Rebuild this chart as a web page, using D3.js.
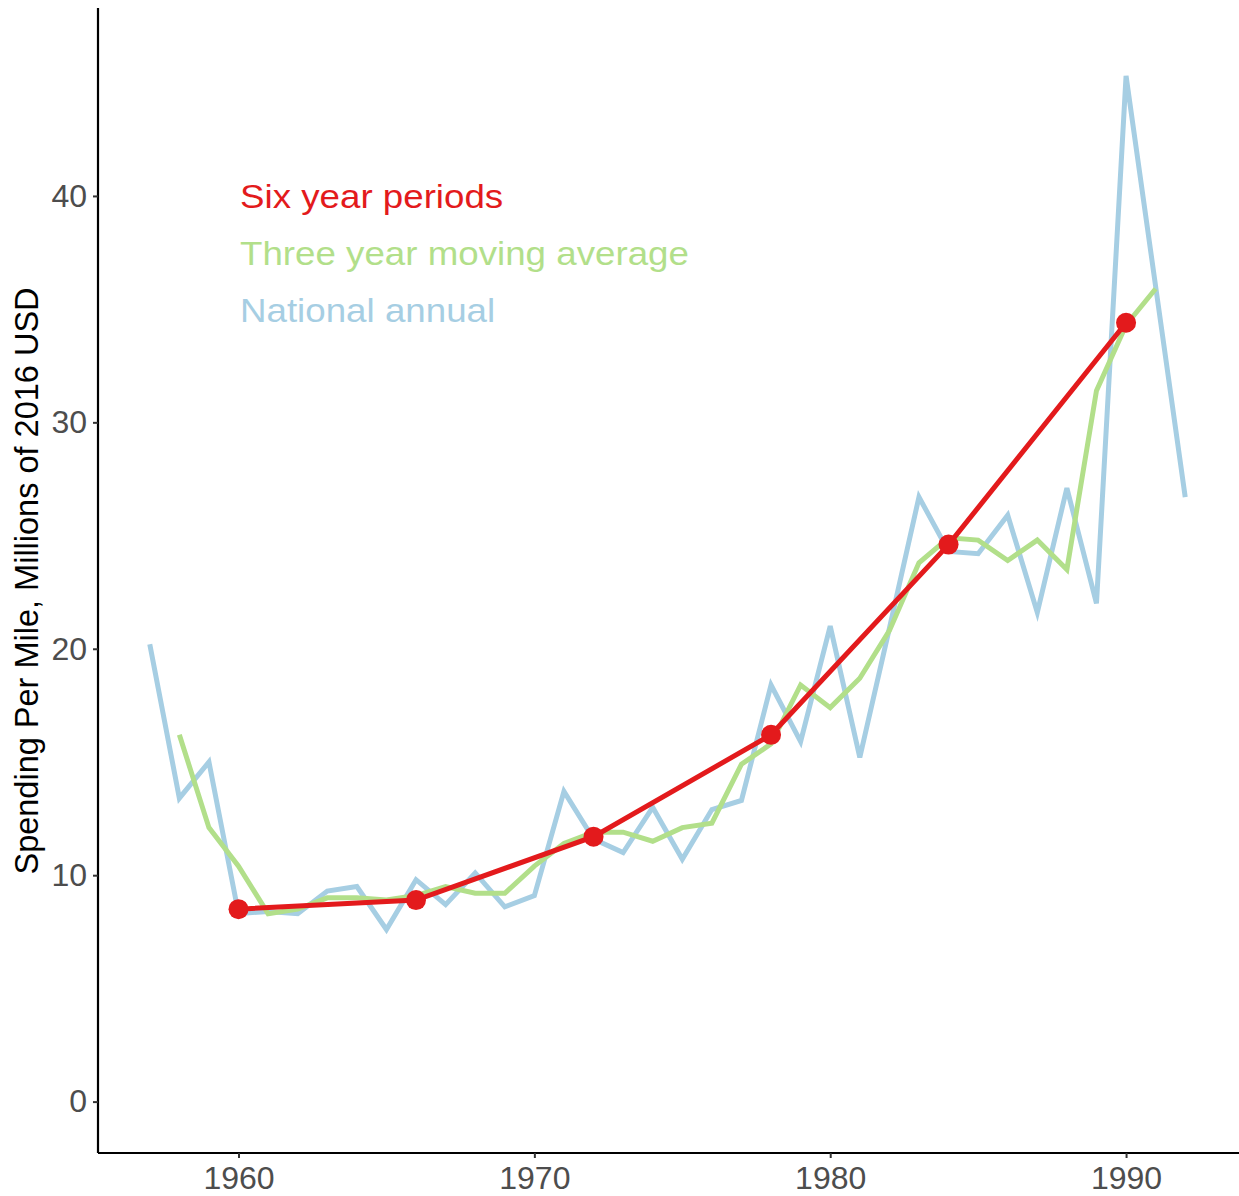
<!DOCTYPE html>
<html>
<head>
<meta charset="utf-8">
<script src="https://cdn.jsdelivr.net/npm/d3@7"></script>
<style>
  html, body { margin: 0; padding: 0; background: #ffffff; }
  svg { display: block; font-family: "Liberation Sans", Arial, sans-serif; }
</style>
</head>
<body>
<svg id="chart" width="1239" height="1196"></svg>
<script>
// National annual spending per mile (millions of 2016 USD)
const annualYears = [1957,1958,1959,1960,1961,1962,1963,1964,1965,1966,1967,1968,1969,1970,
  1971,1972,1973,1974,1975,1976,1977,1978,1979,1980,1981,1982,1983,1984,1985,1986,1987,1988,
  1989,1990,1991,1992];
const annualValues = [20.2,13.4,15.0,8.3,8.4,8.3,9.3,9.5,7.6,9.8,8.7,10.1,8.6,9.1,
  13.7,11.6,11.0,13.0,10.7,12.9,13.3,18.4,15.9,21.0,15.2,20.9,26.7,24.3,24.2,25.9,21.6,27.1,
  22.0,45.3,36.0,26.7];

// Three year moving average
const movingYears = [1958,1959,1960,1961,1962,1963,1964,1965,1966,1967,1968,1969,1970,
  1971,1972,1973,1974,1975,1976,1977,1978,1979,1980,1981,1982,1983,1984,1985,1986,1987,1988,
  1989,1990,1991];
const movingValues = [16.2,12.1,10.4,8.3,8.5,9.0,9.0,8.9,9.1,9.5,9.2,9.2,10.4,
  11.4,11.9,11.9,11.5,12.1,12.3,14.9,15.8,18.4,17.4,18.7,20.8,23.8,24.9,24.8,23.9,24.8,23.5,
  31.4,34.3,35.9];

// Six year period averages
const periodYears = [1960,1966,1972,1978,1984,1990];
const periodValues = [8.5,8.9,11.7,16.2,24.6,34.4];

const xTicks = [1960,1970,1980,1990];
const yTicks = [0,10,20,30,40];

const legendLabels = ["Six year periods","Three year moving average","National annual"];
const colors = { period: "#e31a1c", moving: "#b2df8a", annual: "#a6cee3" };

const svg = d3.select("#chart");

const x = d3.scaleLinear().domain([1955.25, 1993.75]).range([98, 1237]);
const y = d3.scaleLinear().domain([-2.27, 48.3]).range([1153, 8]);

const zip = (xs, vs) => xs.map((d, i) => ({ year: d, value: vs[i] }));
const line = d3.line().x(d => x(d.year)).y(d => y(d.value));

// Series lines
svg.append("path").datum(zip(annualYears, annualValues))
  .attr("fill", "none").attr("stroke", colors.annual)
  .attr("stroke-width", 5).attr("d", line);

svg.append("path").datum(zip(movingYears, movingValues))
  .attr("fill", "none").attr("stroke", colors.moving)
  .attr("stroke-width", 5).attr("d", line);

const periods = zip(periodYears, periodValues);
svg.append("path").datum(periods)
  .attr("fill", "none").attr("stroke", colors.period)
  .attr("stroke-width", 5).attr("d", line);

svg.selectAll("circle.period").data(periods).enter().append("circle")
  .attr("class", "period")
  .attr("cx", d => x(d.year)).attr("cy", d => y(d.value))
  .attr("r", 10).attr("fill", colors.period);

// Axes
const xAxis = svg.append("g").attr("transform", "translate(0,1153)")
  .call(d3.axisBottom(x).tickValues(xTicks).tickFormat(d3.format("d")).tickSize(5).tickPadding(8));
const yAxis = svg.append("g").attr("transform", "translate(98,0)")
  .call(d3.axisLeft(y).tickValues(yTicks).tickSize(5).tickPadding(6));

[xAxis, yAxis].forEach(g => {
  g.select(".domain").attr("stroke", "#000").attr("stroke-width", 2.2);
  g.selectAll(".tick line").attr("stroke", "#333").attr("stroke-width", 2);
  g.selectAll(".tick text").attr("fill", "#4d4d4d")
    .style("font-size", "32px").style("font-family", "'Liberation Sans', Arial, sans-serif");
});
xAxis.select(".domain").attr("d", "M98,0H1239");
yAxis.select(".domain").attr("d", "M0,8V1153");

// Y axis title, centred on the plotting panel
svg.append("text")
  .attr("transform", `translate(38,581) rotate(-90)`)
  .attr("text-anchor", "middle")
  .attr("fill", "#000")
  .style("font-size", "32.5px")
  .text("Spending Per Mile, Millions of 2016 USD");

// Legend labels
const legendColors = [colors.period, colors.moving, colors.annual];
svg.selectAll("text.legend").data(legendLabels).enter().append("text")
  .attr("class", "legend")
  .attr("transform", (d, i) => `translate(240,${208 + i * 57}) scale(1.08,1)`)
  .attr("fill", (d, i) => legendColors[i])
  .style("font-size", "34px")
  .text(d => d);
</script>
</body>
</html>
